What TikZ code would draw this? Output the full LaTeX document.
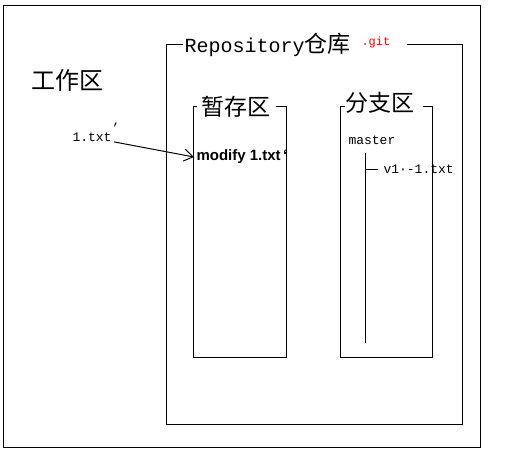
\documentclass[tikz,border=0pt]{standalone}
\usepackage{fontspec}
\setmainfont{Liberation Sans}
\newfontfamily\cjk{Noto Sans CJK SC}
\newfontfamily\mono{Liberation Mono}
\usetikzlibrary{positioning,arrows.meta}

\begin{document}
\begin{tikzpicture}[x=1pt,y=-1pt,line width=1pt,
    zone/.style={font=\cjk\fontsize{23}{23}\selectfont,inner sep=1pt},
    tag/.style={font=\mono\fontsize{13}{13}\selectfont,inner sep=0pt,anchor=west}]
  \useasboundingbox (0,0) rectangle (512,456);
  % working area
  \draw (3,5) rectangle (480,447);
  \node[zone,font=\cjk\fontsize{24}{24}\selectfont] (work) at (67,80) {工作区};
  % repository
  \node[anchor=west,inner sep=1pt] (repo) at (183,45) {{\mono\fontsize{20}{20}\selectfont Repository}{\cjk\fontsize{23}{23}\selectfont 仓库}};
  \node[right=9pt of repo,text=red,font=\mono\fontsize{12}{12}\selectfont,inner sep=0pt,yshift=3pt] (git) {.git};
  \draw (183,44) -- (166,44) -- (166,424) -- (462,424) -- (462,44) -- (407,44);
  % staging area
  \draw (197,106) -- (193,106) -- (193,357) -- (286,357) -- (286,106) -- (276,106);
  \node[zone] (stage) at (236,107) {暂存区};
  % branch area
  \draw (345,106) -- (340,106) -- (340,357) -- (432,357) -- (432,106) -- (423,106);
  \node[zone] (branch) at (380,103) {分支区};
  \node[tag] (master) at (348,140) {master};
  \coordinate (trunk) at (365,153);
  \coordinate (trunkend) at (365,343);
  \draw (trunk) -- (trunkend);
  \node[tag] (v1) at (383,169) {v1·-1.txt};
  \draw (trunk |- v1) -- ([xshift=-5pt]v1.west);
  % file added to the index
  \node[tag] (file) at (72,137) {1.txt};
  \node[tag,anchor=south west] (tick) at ([xshift=-1pt,yshift=-1pt]file.north east) {’};
  \node[anchor=west,inner sep=2pt,font=\bfseries\fontsize{15}{15}\selectfont] (mod) at (194,157) {modify 1.txt\,‘};
  \draw[-{Straight Barb[length=9pt,width=12pt]}] ([xshift=2pt]file.south east) -- (mod.west);
\end{tikzpicture}
\end{document}
